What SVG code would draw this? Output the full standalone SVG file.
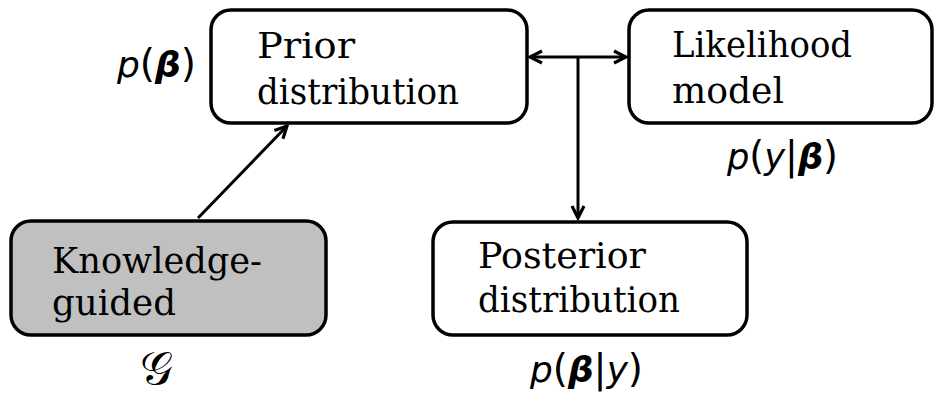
<svg xmlns="http://www.w3.org/2000/svg" width="935" height="398" viewBox="0 0 935 398">
<defs>
<marker id="ah" viewBox="0 0 16 16" refX="14" refY="8" markerWidth="16" markerHeight="16" markerUnits="userSpaceOnUse" orient="auto-start-reverse">
<polyline points="2,2 14,8 2,14" fill="none" stroke="#000" stroke-width="3.2" stroke-linejoin="miter"/>
</marker>
</defs>
<style>
.box{fill:#fff;stroke:#000;stroke-width:3.5}
.gray{fill:#c0c0c0}
.t{font-family:"DejaVu Serif","Liberation Serif",serif;font-size:35px;fill:#000}
.m{font-family:"DejaVu Sans","Liberation Sans",sans-serif;font-size:36px;font-style:italic;fill:#000}
.u{font-style:normal;font-size:39px}
.b{font-weight:bold}
.c{stroke:#000;stroke-width:3;fill:none}
</style>
<g id="prior">
<rect class="box" x="211" y="10" width="316" height="113" rx="20"/>
<text class="t" x="257" y="58" textLength="98" lengthAdjust="spacingAndGlyphs">Prior</text>
<text class="t" x="257" y="104" textLength="202" lengthAdjust="spacingAndGlyphs">distribution</text>
<text class="m" x="117" y="77" textLength="79" lengthAdjust="spacingAndGlyphs">p<tspan class="u">(</tspan><tspan class="b">β</tspan><tspan class="u">)</tspan></text>
</g>
<g id="likelihood">
<rect class="box" x="629" y="10" width="303" height="113" rx="20"/>
<text class="t" x="672" y="57" textLength="180" lengthAdjust="spacingAndGlyphs">Likelihood</text>
<text class="t" x="672" y="103" textLength="112" lengthAdjust="spacingAndGlyphs">model</text>
<text class="m" x="727" y="169" textLength="111" lengthAdjust="spacingAndGlyphs">p<tspan class="u">(</tspan>y<tspan class="u">|</tspan><tspan class="b">β</tspan><tspan class="u">)</tspan></text>
</g>
<g id="posterior">
<rect class="box" x="433" y="222" width="314" height="113" rx="20"/>
<text class="t" x="478" y="268" textLength="168" lengthAdjust="spacingAndGlyphs">Posterior</text>
<text class="t" x="478" y="312" textLength="202" lengthAdjust="spacingAndGlyphs">distribution</text>
<text class="m" x="530" y="382" textLength="113" lengthAdjust="spacingAndGlyphs">p<tspan class="u">(</tspan><tspan class="b">β</tspan><tspan class="u">|</tspan>y<tspan class="u">)</tspan></text>
</g>
<g id="knowledge">
<rect class="box gray" x="11" y="221" width="315" height="114" rx="20"/>
<text class="t" x="52" y="273" textLength="210" lengthAdjust="spacingAndGlyphs">Knowledge-</text>
<text class="t" x="52" y="315" textLength="124" lengthAdjust="spacingAndGlyphs">guided</text>
<text class="m" x="140" y="384" style="font-style:normal;font-size:46px">𝒢</text>
</g>
<g id="connectors">
<line class="c" x1="530" y1="57" x2="626" y2="57" marker-start="url(#ah)" marker-end="url(#ah)"/>
<line class="c" x1="578" y1="57" x2="578" y2="218" marker-end="url(#ah)"/>
<line class="c" x1="198" y1="218" x2="287" y2="126" marker-end="url(#ah)"/>
</g>
</svg>
